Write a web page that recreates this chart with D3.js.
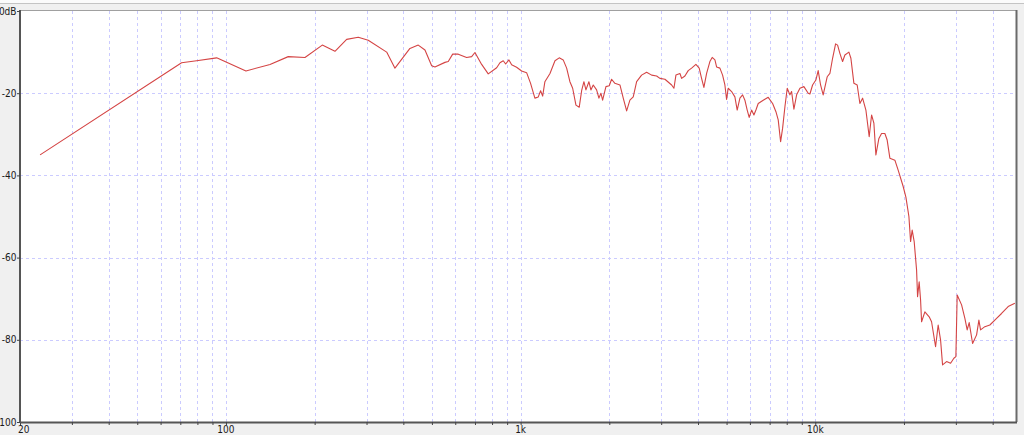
<!DOCTYPE html>
<html>
<head>
<meta charset="utf-8">
<script src="https://cdn.jsdelivr.net/npm/d3@7"></script>
<style>
html,body{margin:0;padding:0;background:#f0f0f0;}
svg{display:block;}
text{font-family:"DejaVu Sans Condensed","Liberation Sans Narrow","DejaVu Sans",sans-serif;font-size:10px;fill:#1a1a1a;}
</style>
</head>
<body>
<svg id="chart" width="1024" height="435"></svg>
<script>
// ---- data ----
const freqs = [
  23.4, 70.7, 79.5, 93.0, 116.9, 141.1, 162.7, 185.4, 212.3, 234.4,
  256.8, 281.2, 304.0, 351.1, 374.6, 421.1, 449.4, 473.6, 499.0, 512.0,
  553.6, 568.1, 588.0, 614.3, 655.9, 682.1, 699.9, 737.5, 776.5, 829.3,
  850.9, 873.1, 889.7, 912.9, 932.3, 969.3, 1008, 1048, 1081, 1118,
  1148, 1169, 1188, 1209, 1258, 1308, 1352, 1395, 1433, 1470,
  1502, 1541, 1581, 1611, 1640, 1666, 1705, 1732, 1764, 1811,
  1844, 1873, 1898, 1948, 1999, 2036, 2089, 2173, 2230, 2290,
  2349, 2411, 2476, 2574, 2677, 2784, 2895, 2970, 3089, 3255,
  3314, 3366, 3473, 3519, 3611, 3705, 3805, 3935, 4037, 4113,
  4188, 4278, 4389, 4469, 4565, 4625, 4746, 4847, 4935, 5001,
  5064, 5200, 5336, 5433, 5549, 5668, 5770, 5875, 5967, 6081,
  6191, 6289, 6403, 6658, 6923, 7166, 7353, 7486, 7628, 7748,
  7889, 8032, 8203, 8312, 8463, 8644, 8870, 9150, 9463, 9590,
  9792, 10047, 10230, 10424, 10637, 10976, 11211, 11450, 11721, 11906,
  12121, 12380, 12605, 13005, 13210, 13524, 13876, 14172, 14475, 14853,
  15241, 15528, 15810, 16060, 16441, 16788, 17227, 17539, 17915, 18628,
  19113, 19878, 20304, 20786, 21061, 21325, 21661, 22071, 22244, 22523,
  22772, 22951, 23550, 24355, 24814, 25603, 26128, 26620, 27040, 27902,
  28789, 29540, 30006, 30312, 31375, 32193, 32776, 33294, 34194, 35277,
  35916, 36390, 37630, 39130, 41240, 42880, 45140, 47570
];
const levels = [
  -35.0, -12.6, -12.1, -11.4, -14.6, -13.0, -11.1, -11.3, -8.3, -9.8,
  -6.9, -6.4, -7.1, -10.0, -13.9, -9.1, -8.3, -9.5, -13.3, -13.6,
  -12.5, -12.3, -10.5, -10.5, -11.3, -11.1, -10.1, -13.0, -15.3, -13.8,
  -12.6, -12.1, -12.9, -11.9, -13.1, -13.7, -14.6, -15.0, -17.6, -21.2,
  -20.9, -19.4, -20.7, -17.2, -15.2, -12.1, -11.4, -11.9, -13.9, -17.2,
  -18.8, -22.9, -23.4, -19.4, -17.2, -19.2, -17.2, -19.2, -18.0, -19.2,
  -21.2, -20.0, -21.7, -18.4, -18.2, -16.6, -17.6, -18.0, -21.2, -24.3,
  -21.7, -20.9, -17.2, -15.6, -14.9, -15.6, -15.8, -16.4, -16.6, -18.0,
  -18.8, -15.6, -15.2, -16.4, -15.8, -14.5, -13.9, -13.0, -13.9, -16.4,
  -18.6, -15.2, -12.3, -11.3, -11.9, -13.6, -13.9, -15.6, -18.0, -21.5,
  -18.8, -19.6, -20.9, -24.1, -21.2, -20.4, -21.7, -24.1, -25.9, -24.1,
  -25.3, -24.1, -22.5, -21.7, -21.0, -22.5, -24.5, -26.5, -31.8, -28.5,
  -23.3, -18.8, -20.4, -19.6, -23.9, -20.4, -18.8, -18.4, -20.0, -20.2,
  -18.0, -16.8, -14.5, -18.0, -20.4, -16.0, -15.2, -11.5, -8.0, -8.3,
  -10.3, -12.3, -10.7, -10.0, -11.5, -17.6, -18.0, -22.5, -21.2, -24.1,
  -30.6, -25.3, -27.3, -35.0, -31.0, -29.8, -29.8, -31.4, -35.8, -36.3,
  -38.7, -42.7, -45.3, -50.0, -56.1, -53.3, -56.1, -63.0, -69.5, -65.9,
  -70.3, -75.6, -73.2, -74.4, -75.6, -81.7, -76.4, -80.0, -86.1, -85.3,
  -85.7, -84.5, -84.1, -69.1, -71.5, -74.8, -77.6, -75.8, -80.9, -78.8,
  -75.2, -77.6, -76.8, -76.4, -74.8, -73.6, -71.9, -71.1
];
const xGrid = [30,40,50,60,70,80,90,100,200,300,400,500,600,700,800,900,
  1000,2000,3000,4000,5000,6000,7000,8000,9000,10000,20000,30000,40000];
const xLabels = [[20,"20"],[100,"100"],[1000,"1k"],[10000,"10k"]];
const yTicks = [0,-20,-40,-60,-80,-100];
const yLabels = ["0dB","-20","-40","-60","-80","100"];
const xDomain = [20, 48000];
const yDomain = [-100, 0];

// ---- layout ----
const L = 20, R = 1016, T = 11, B = 422;
const svg = d3.select("#chart");
const x = d3.scaleLog().domain(xDomain).range([L, R]);
const y = d3.scaleLinear().domain(yDomain).range([B, T]);

svg.append("rect").attr("width",1024).attr("height",435).attr("fill","#f0f0f0");
svg.append("rect").attr("x",0).attr("y",0).attr("width",1024).attr("height",3).attr("fill","#fbfbfb");
svg.append("line").attr("x1",0).attr("x2",1024).attr("y1",3.5).attr("y2",3.5).attr("stroke","#c4c4c4");
svg.append("rect").attr("x",L).attr("y",T-1).attr("width",R-L).attr("height",B-T+1).attr("fill","#fff");

// grid
const grid = svg.append("g").attr("stroke","#cbcbff").attr("stroke-dasharray","3,3").attr("stroke-width",1);
grid.selectAll(".gx").data(xGrid).enter().append("line")
  .attr("x1",d=>Math.round(x(d))+0.5).attr("x2",d=>Math.round(x(d))+0.5)
  .attr("y1",T).attr("y2",B);
grid.selectAll(".gy").data(yTicks.filter(d=>d!==0 && d!==-100)).enter().append("line")
  .attr("x1",L).attr("x2",R)
  .attr("y1",d=>Math.round(y(d))+0.5).attr("y2",d=>Math.round(y(d))+0.5);

// curve
const pts = freqs.map((f,i)=>[f, levels[i]]);
svg.append("path").datum(pts)
  .attr("fill","none").attr("stroke","#d44444").attr("stroke-width",1.1)
  .attr("stroke-linejoin","round")
  .attr("d", d3.line().x(d=>x(d[0])).y(d=>y(d[1])));

// frame
svg.append("line").attr("x1",L).attr("x2",R).attr("y1",T-0.5).attr("y2",T-0.5).attr("stroke","#a0a0a0");
svg.append("line").attr("x1",R+0.5).attr("x2",R+0.5).attr("y1",T-1).attr("y2",B).attr("stroke","#6a6a6a").attr("stroke-width",2);

// x axis
const xAxis = d3.axisBottom(x).tickValues([20].concat(xGrid)).tickSize(3).tickFormat("");
const gx = svg.append("g").attr("transform",`translate(0,${B})`).call(xAxis);
gx.select(".domain").attr("stroke","#555").attr("stroke-width",2).attr("d",`M${L},0.5H${R+1}`);
gx.selectAll(".tick line").attr("stroke","#444");
svg.selectAll(".xl").data(xLabels).enter().append("text")
  .attr("x",d=> d[0]===20 ? x(d[0])-2 : x(d[0]))
  .attr("y",433)
  .attr("text-anchor",d=> d[0]===20 ? "start" : "middle")
  .text(d=>d[1]);

// y axis
const yAxis = d3.axisLeft(y).tickValues(yTicks).tickSize(3).tickFormat("");
const gy = svg.append("g").attr("transform",`translate(${L},0)`).call(yAxis);
gy.select(".domain").attr("stroke","#555").attr("stroke-width",2).attr("d",`M0,${T-1}V${B+1}`);
gy.selectAll(".tick line").attr("stroke","#444");
svg.selectAll(".yl").data(yTicks).enter().append("text")
  .attr("x",16.5)
  .attr("y",d=>y(d)+3.5)
  .attr("text-anchor","end")
  .text((d,i)=>yLabels[i]);
</script>
</body>
</html>
